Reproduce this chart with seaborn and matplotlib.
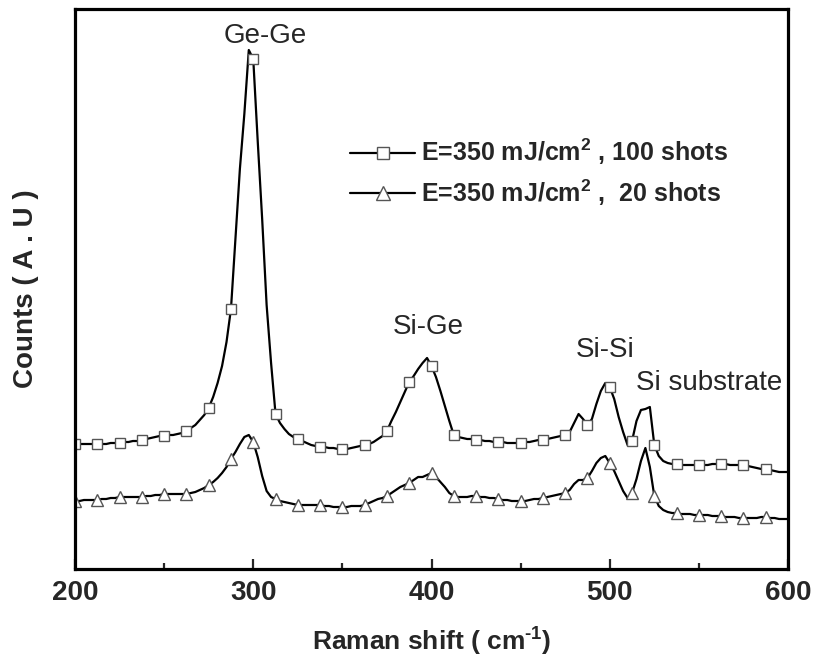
import matplotlib
matplotlib.use("Agg")
import matplotlib.pyplot as plt
from matplotlib.lines import Line2D
import numpy as np
import pandas as pd
import seaborn as sns

sns.set_style("ticks")
plt.rcParams["font.family"] = ["Liberation Sans", "DejaVu Sans"]
plt.rcParams["mathtext.fontset"] = "custom"
plt.rcParams["mathtext.rm"] = "Liberation Sans:bold"
plt.rcParams["mathtext.default"] = "rm"

# Raman shift sampling (cm^-1)
shift = [
    200.0, 202.5, 205.0, 207.5, 210.0, 212.5, 215.0, 217.5, 220.0, 222.5,
    225.0, 227.5, 230.0, 232.5, 235.0, 237.5, 240.0, 242.5, 245.0, 247.5,
    250.0, 252.5, 255.0, 257.5, 260.0, 262.5, 265.0, 267.5, 270.0, 272.5,
    275.0, 277.5, 280.0, 282.5, 285.0, 287.5, 290.0, 292.5, 295.0, 297.5,
    300.0, 302.5, 305.0, 307.5, 310.0, 312.5, 315.0, 317.5, 320.0, 322.5,
    325.0, 327.5, 330.0, 332.5, 335.0, 337.5, 340.0, 342.5, 345.0, 347.5,
    350.0, 352.5, 355.0, 357.5, 360.0, 362.5, 365.0, 367.5, 370.0, 372.5,
    375.0, 377.5, 380.0, 382.5, 385.0, 387.5, 390.0, 392.5, 395.0, 397.5,
    400.0, 402.5, 405.0, 407.5, 410.0, 412.5, 415.0, 417.5, 420.0, 422.5,
    425.0, 427.5, 430.0, 432.5, 435.0, 437.5, 440.0, 442.5, 445.0, 447.5,
    450.0, 452.5, 455.0, 457.5, 460.0, 462.5, 465.0, 467.5, 470.0, 472.5,
    475.0, 477.5, 480.0, 482.5, 485.0, 487.5, 490.0, 492.5, 495.0, 497.5,
    500.0, 502.5, 505.0, 507.5, 510.0, 512.5, 515.0, 517.5, 520.0, 522.5,
    525.0, 527.5, 530.0, 532.5, 535.0, 537.5, 540.0, 542.5, 545.0, 547.5,
    550.0, 552.5, 555.0, 557.5, 560.0, 562.5, 565.0, 567.5, 570.0, 572.5,
    575.0, 577.5, 580.0, 582.5, 585.0, 587.5, 590.0, 592.5, 595.0, 597.5,
    600.0,
]

# Counts, 100 shots (arbitrary units)
counts_100 = [
    125, 125, 125, 125, 125, 125, 125, 125, 126, 126,
    126, 127, 127, 128, 128, 129, 130, 131, 132, 133,
    133, 134, 134, 135, 136, 138, 141, 144, 149, 154,
    161, 172, 186, 203, 227, 260, 330, 400, 455, 519,
    510, 428, 350, 264, 206, 155, 146, 140, 135, 132,
    130, 128, 126, 124, 123, 122, 122, 121, 121, 120,
    120, 120, 121, 122, 123, 124, 125, 127, 130, 133,
    138, 148, 157, 167, 177, 187, 193, 200, 206, 211,
    203, 192, 178, 163, 148, 134, 132, 131, 130, 130,
    129, 129, 128, 128, 127, 127, 127, 126, 126, 126,
    126, 127, 127, 128, 129, 129, 130, 131, 132, 133,
    134, 137, 146, 155, 150, 144, 150, 165, 178, 186,
    182, 170, 152, 137, 124, 128, 148, 159, 160, 162,
    124, 113, 108, 106, 105, 105, 104, 104, 104, 104,
    104, 104, 104, 105, 105, 105, 105, 104, 104, 104,
    104, 103, 102, 101, 100, 100, 99, 98, 97, 97,
    97,
]

# Counts, 20 shots (arbitrary units)
counts_20 = [
    68, 68, 69, 69, 69, 69, 70, 70, 71, 71,
    72, 72, 72, 72, 72, 72, 73, 73, 74, 74,
    75, 75, 75, 75, 75, 75, 76, 77, 79, 81,
    84, 87, 91, 96, 102, 110, 117, 125, 132, 134,
    127, 112, 93, 78, 72, 70, 68, 67, 66, 65,
    64, 64, 64, 64, 64, 64, 63, 63, 62, 62,
    62, 62, 63, 63, 63, 64, 66, 68, 70, 71,
    73, 76, 79, 82, 84, 86, 89, 92, 92, 94,
    96, 92, 87, 82, 76, 73, 72, 72, 72, 73,
    73, 72, 72, 71, 71, 70, 69, 69, 68, 68,
    68, 68, 69, 70, 70, 71, 72, 73, 74, 75,
    76, 79, 85, 89, 89, 91, 98, 106, 111, 113,
    106, 98, 88, 78, 71, 76, 90, 108, 121, 102,
    73, 63, 59, 57, 56, 56, 55, 55, 55, 54,
    54, 54, 54, 53, 53, 53, 52, 52, 52, 51,
    51, 51, 51, 51, 52, 52, 51, 51, 50, 50,
    50,
]

labels = ["E=350 mJ/cm$^{2}$ , 100 shots", "E=350 mJ/cm$^{2}$ ,  20 shots"]
peak_names = ["Ge-Ge", "Si-Ge", "Si-Si", "Si substrate"]
peak_pos = [306.5, 398.0, 497.5, 556.0]
peak_lvl = [533, 242, 219, 186]

df = pd.DataFrame({"shift": shift, "s100": counts_100, "s20": counts_20})
mark_idx = [i for i, v in enumerate(shift) if v % 12.5 == 0 and v < 600]

fig = plt.figure(figsize=(8.15, 6.63), dpi=100)
ax = fig.add_axes([75 / 815, 94 / 663, 713 / 815, 560 / 663])

line_kw = dict(color="black", linewidth=1.6, markerfacecolor="white",
               markeredgecolor="#555555", markeredgewidth=1.0,
               markevery=mark_idx)
sns.lineplot(data=df, x="shift", y="s100", ax=ax, marker="s",
             markersize=6.8, **line_kw)
sns.lineplot(data=df, x="shift", y="s20", ax=ax, marker="^",
             markersize=8.2, **line_kw)

ax.set_xlim(200, 600)
ax.set_ylim(0, 560)
ax.set_xticks([200, 300, 400, 500, 600])
ax.set_xticks([250, 350, 450, 550], minor=True)
ax.set_yticks([])
ax.tick_params(axis="x", which="major", direction="in", length=7, width=1.6,
               pad=8, top=False)
ax.tick_params(axis="x", which="minor", direction="in", length=4.5, width=1.6,
               top=False)
for lab in ax.get_xticklabels():
    lab.set_fontweight("bold")
    lab.set_fontsize(20)
for sp in ax.spines.values():
    sp.set_visible(True)
    sp.set_linewidth(2.3)
    sp.set_color("black")

ax.set_xlabel("Raman shift ( cm$^{\\text{-}1}$)", fontsize=19,
              fontweight="bold", labelpad=14)
ax.set_ylabel("Counts ( A . U )", fontsize=20, fontweight="bold", labelpad=26)

for name, xp, yp in zip(peak_names, peak_pos, peak_lvl):
    ax.text(xp, yp, name, fontsize=20, ha="center", va="center")

handles = [
    Line2D([], [], color="black", linewidth=1.6, marker="s", markersize=8,
           markerfacecolor="white", markeredgecolor="#555555"),
    Line2D([], [], color="black", linewidth=1.6, marker="^", markersize=10,
           markerfacecolor="white", markeredgecolor="#555555"),
]
ax.legend(handles, labels, loc="upper left", frameon=False,
          bbox_to_anchor=(350 / 815, 1 - 137 / 663),
          bbox_transform=fig.transFigure, borderaxespad=0, borderpad=0,
          handlelength=2.6, handletextpad=0.25, labelspacing=0.4,
          prop={"weight": "bold", "size": 18})

fig.savefig("out.png", dpi=100)
